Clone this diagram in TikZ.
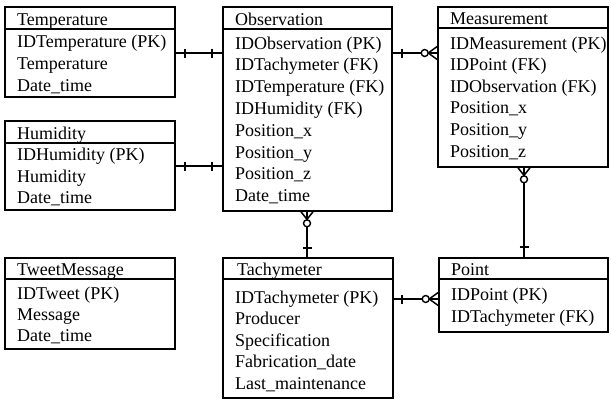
\documentclass[tikz,border=0pt]{standalone}
\usepackage{fontspec}
\setmainfont{Liberation Serif}
\usetikzlibrary{fit,calc}
\tikzset{
  erbox/.style={draw, line width=1.6pt, inner sep=0pt},
  sepline/.style={line width=1.5pt},
  attr/.style={anchor=base west, inner sep=0pt, font=\fontsize{18}{21.6}\selectfont},
  conn/.style={line width=1.5pt},
  ring/.style={line width=1.4pt, fill=white},
}
% tick across a horizontal connector, #2 pt from point #1
\newcommand{\tickh}[2]{\draw[conn] ($(#1)+(#2,-4.5)$) -- ++(0,9);}
% tick across a vertical connector, #2 pt from point #1
\newcommand{\tickv}[2]{\draw[conn] ($(#1)+(-4.5,#2)$) -- ++(9,0);}
% zero-or-many at a left box edge #1 (connector arriving from the left)
\newcommand{\manyleft}[1]{%
  \draw[conn] ($(#1)+(-9,0)$) -- ($(#1)+(0,-6.5)$)
              ($(#1)+(-9,0)$) -- ($(#1)+(0,6.5)$);
  \draw[ring] ($(#1)+(-12.5,0)$) circle[radius=3.5];}
% zero-or-many at a bottom box edge #1 (connector leaving downwards)
\newcommand{\manydown}[1]{%
  \draw[conn] ($(#1)+(0,7.5)$) -- ($(#1)+(-6,0)$)
              ($(#1)+(0,7.5)$) -- ($(#1)+(6,0)$);
  \draw[ring] ($(#1)+(0,11.5)$) circle[radius=3.5];}
\begin{document}
\begin{tikzpicture}[x=1pt,y=-1pt]
\useasboundingbox (0,0) rectangle (611,400);

% ---------- Temperature
\node[erbox, fit={(5,7) (175,97)}] (temp) {};
\draw[sepline] (temp.west |- 0,29) -- (temp.east |- 0,29);
\node[attr] (temp-h) at (17,25) {Temperature};
\node[attr] (temp-1) at (17,47) {IDTemperature (PK)};
\node[attr] (temp-2) at (17,69) {Temperature};
\node[attr] (temp-3) at (17,91) {Date\_time};

% ---------- Humidity
\node[erbox, fit={(5,121) (175,210)}] (hum) {};
\draw[sepline] (hum.west |- 0,143) -- (hum.east |- 0,143);
\node[attr] (hum-h) at (17,139) {Humidity};
\node[attr] (hum-1) at (17,160.5) {IDHumidity (PK)};
\node[attr] (hum-2) at (17,182) {Humidity};
\node[attr] (hum-3) at (17,203.5) {Date\_time};

% ---------- TweetMessage
\node[erbox, fit={(5,258) (175,349)}] (tweet) {};
\draw[sepline] (tweet.west |- 0,279) -- (tweet.east |- 0,279);
\node[attr] (tweet-h) at (17,275) {TweetMessage};
\node[attr] (tweet-1) at (17,299) {IDTweet (PK)};
\node[attr] (tweet-2) at (17,320) {Message};
\node[attr] (tweet-3) at (17,341) {Date\_time};

% ---------- Observation
\node[erbox, fit={(223,7) (392,211)}] (obs) {};
\draw[sepline] (obs.west |- 0,29) -- (obs.east |- 0,29);
\node[attr] (obs-h) at (235,25) {Observation};
\node[attr] (obs-1) at (235,49) {IDObservation (PK)};
\node[attr] (obs-2) at (235,70.8) {IDTachymeter (FK)};
\node[attr] (obs-3) at (235,92.6) {IDTemperature (FK)};
\node[attr] (obs-4) at (235,114.4) {IDHumidity (FK)};
\node[attr] (obs-5) at (235,136.2) {Position\_x};
\node[attr] (obs-6) at (235,158) {Position\_y};
\node[attr] (obs-7) at (235,179.8) {Position\_z};
\node[attr] (obs-8) at (235,201.6) {Date\_time};

% ---------- Measurement
\node[erbox, fit={(438,7) (608,167)}] (meas) {};
\draw[sepline] (meas.west |- 0,28) -- (meas.east |- 0,28);
\node[attr] (meas-h) at (450,24.5) {Measurement};
\node[attr] (meas-1) at (450,49) {IDMeasurement (PK)};
\node[attr] (meas-2) at (450,70.6) {IDPoint (FK)};
\node[attr] (meas-3) at (450,92.2) {IDObservation (FK)};
\node[attr] (meas-4) at (450,113.8) {Position\_x};
\node[attr] (meas-5) at (450,135.4) {Position\_y};
\node[attr] (meas-6) at (450,157) {Position\_z};

% ---------- Tachymeter
\node[erbox, fit={(223,258) (393,398)}] (tach) {};
\draw[sepline] (tach.west |- 0,279) -- (tach.east |- 0,279);
\node[attr] (tach-h) at (237,275.5) {Tachymeter};
\node[attr] (tach-1) at (235,303) {IDTachymeter (PK)};
\node[attr] (tach-2) at (235,324.5) {Producer};
\node[attr] (tach-3) at (235,346) {Specification};
\node[attr] (tach-4) at (235,367.5) {Fabrication\_date};
\node[attr] (tach-5) at (235,389) {Last\_maintenance};

% ---------- Point
\node[erbox, fit={(439,258) (608,332)}] (point) {};
\draw[sepline] (point.west |- 0,279) -- (point.east |- 0,279);
\node[attr] (point-h) at (451,275.5) {Point};
\node[attr] (point-1) at (451,300) {IDPoint (PK)};
\node[attr] (point-2) at (451,322) {IDTachymeter (FK)};

% ---------- Connectors
% Temperature -- Observation (one and only one on both ends)
\coordinate (ta) at (temp.east |- 0,53);
\coordinate (tb) at (obs.west |- 0,53);
\draw[conn] (ta) -- (tb);
\tickh{ta}{9}
\tickh{tb}{-10}

% Humidity -- Observation
\coordinate (ha) at (hum.east |- 0,166);
\coordinate (hb) at (obs.west |- 0,166);
\draw[conn] (ha) -- (hb);
\tickh{ha}{9}
\tickh{hb}{-10}

% Observation -- Measurement (one to zero-or-many)
\coordinate (oa) at (obs.east |- 0,53);
\coordinate (ob) at (meas.west |- 0,53);
\draw[conn] (oa) -- (ob);
\tickh{oa}{9}
\manyleft{ob}

% Tachymeter -- Point (one to zero-or-many)
\coordinate (pa) at (tach.east |- 0,299);
\coordinate (pb) at (point.west |- 0,299);
\draw[conn] (pa) -- (pb);
\tickh{pa}{8}
\manyleft{pb}

% Observation (many) -- Tachymeter (one)
\coordinate (va) at (obs.south -| 307,0);
\coordinate (vb) at (tach.north -| 307,0);
\draw[conn] (va) -- (vb);
\manydown{va}
\tickv{vb}{-9}

% Measurement (many) -- Point (one)
\coordinate (wa) at (meas.south -| 524,0);
\coordinate (wb) at (point.north -| 524,0);
\draw[conn] (wa) -- (wb);
\manydown{wa}
\tickv{wb}{-10}
\end{tikzpicture}
\end{document}
